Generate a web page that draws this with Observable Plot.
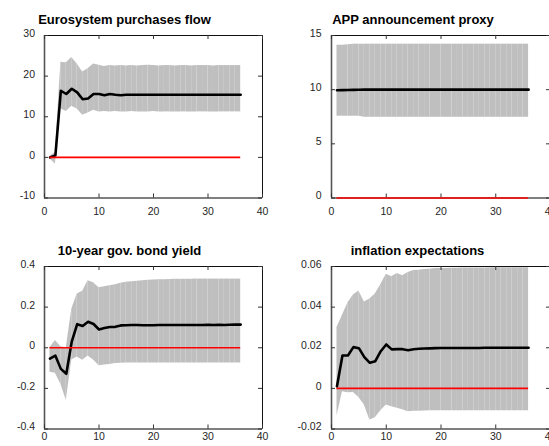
<!DOCTYPE html>
<html>
<head>
<meta charset="utf-8">
<script src="https://cdn.jsdelivr.net/npm/d3@7"></script>
<script src="https://cdn.jsdelivr.net/npm/@observablehq/plot@0.6"></script>
<style>
  html, body { margin: 0; padding: 0; background: #fff; overflow: hidden; }
  #fig { position: relative; width: 549px; height: 446px; overflow: hidden;
         font-family: "Liberation Sans", Arial, Helvetica, sans-serif; }
  .panel { position: absolute; }
  .title { position: absolute; font-weight: bold; font-size: 13px; line-height: 13px;
           color: #000; white-space: nowrap; transform: translateX(-50%); }
</style>
</head>
<body>
<div id="fig"></div>
<script>
// Impulse-response horizon (months)
const horizon = [1, 2, 3, 4, 5, 6, 7, 8, 9, 10, 11, 12, 13, 14, 15, 16, 17, 18,
                 19, 20, 21, 22, 23, 24, 25, 26, 27, 28, 29, 30, 31, 32, 33, 34, 35, 36];

// Eurosystem purchases flow: median response and credible band
const flowMedian = [0.0, 0.5, 16.4, 15.6, 16.9, 16.0, 14.3, 14.5, 15.6, 15.6, 15.3, 15.6,
                    15.4, 15.3, 15.4, 15.4, 15.4, 15.4, 15.4, 15.4, 15.4, 15.4, 15.4, 15.4,
                    15.4, 15.4, 15.4, 15.4, 15.4, 15.4, 15.4, 15.4, 15.4, 15.4, 15.4, 15.4];
const flowUpper = [0.3, 1.2, 23.4, 23.3, 24.6, 23.0, 21.0, 21.8, 23.0, 22.7, 22.4, 22.6,
                   22.5, 22.6, 22.5, 22.6, 22.5, 22.6, 22.7, 22.6, 22.5, 22.6, 22.6, 22.5,
                   22.6, 22.6, 22.5, 22.6, 22.6, 22.6, 22.5, 22.6, 22.6, 22.6, 22.6, 22.6];
const flowLower = [-0.3, -1.7, 12.0, 11.3, 12.6, 11.9, 10.4, 10.9, 11.6, 11.2, 11.3, 11.2,
                   11.3, 11.2, 11.2, 11.3, 11.2, 11.2, 11.2, 11.3, 11.2, 11.2, 11.2, 11.2,
                   11.2, 11.2, 11.2, 11.2, 11.2, 11.2, 11.2, 11.2, 11.2, 11.2, 11.2, 11.2];

// APP announcement proxy
const appMedian = [9.95, 9.96, 9.97, 9.98, 9.99, 10.0, 10.0, 10.0, 10.0, 10.0, 10.0, 10.0,
                   10.0, 10.0, 10.0, 10.0, 10.0, 10.0, 10.0, 10.0, 10.0, 10.0, 10.0, 10.0,
                   10.0, 10.0, 10.0, 10.0, 10.0, 10.0, 10.0, 10.0, 10.0, 10.0, 10.0, 10.0];
const appUpper = [14.1, 14.1, 14.15, 14.2, 14.2, 14.2, 14.2, 14.2, 14.2, 14.2, 14.2, 14.2,
                  14.2, 14.2, 14.2, 14.2, 14.2, 14.2, 14.2, 14.2, 14.2, 14.2, 14.2, 14.2,
                  14.2, 14.2, 14.2, 14.2, 14.2, 14.2, 14.2, 14.2, 14.2, 14.2, 14.2, 14.2];
const appLower = [7.55, 7.55, 7.55, 7.55, 7.55, 7.45, 7.45, 7.45, 7.45, 7.45, 7.45, 7.45,
                  7.45, 7.45, 7.45, 7.45, 7.45, 7.45, 7.45, 7.45, 7.45, 7.45, 7.45, 7.45,
                  7.45, 7.45, 7.45, 7.45, 7.45, 7.45, 7.45, 7.45, 7.45, 7.45, 7.45, 7.45];

// 10-year government bond yield
const bondMedian = [-0.054, -0.039, -0.104, -0.128, 0.030, 0.116, 0.107, 0.128, 0.117, 0.090, 0.097, 0.102,
                    0.103, 0.110, 0.111, 0.112, 0.112, 0.111, 0.111, 0.111, 0.112, 0.112, 0.112, 0.112,
                    0.112, 0.112, 0.112, 0.112, 0.112, 0.113, 0.112, 0.113, 0.112, 0.113, 0.114, 0.114];
const bondUpper = [0.000, 0.036, 0.005, 0.000, 0.190, 0.265, 0.278, 0.330, 0.320, 0.295, 0.300, 0.305,
                   0.310, 0.318, 0.322, 0.325, 0.327, 0.330, 0.332, 0.333, 0.335, 0.335, 0.336, 0.337,
                   0.337, 0.337, 0.337, 0.338, 0.338, 0.338, 0.338, 0.338, 0.338, 0.338, 0.338, 0.338];
const bondLower = [-0.120, -0.125, -0.180, -0.260, -0.060, -0.045, -0.062, -0.040, -0.060, -0.088, -0.085, -0.082,
                   -0.078, -0.076, -0.075, -0.075, -0.075, -0.075, -0.075, -0.075, -0.075, -0.075, -0.075, -0.075,
                   -0.075, -0.075, -0.075, -0.075, -0.075, -0.075, -0.075, -0.075, -0.075, -0.075, -0.075, -0.075];

// Inflation expectations
const inflMedian = [0.0010, 0.0162, 0.0162, 0.0203, 0.0198, 0.0154, 0.0126, 0.0134, 0.0183, 0.0216, 0.0192, 0.0193,
                    0.0193, 0.0188, 0.0193, 0.0195, 0.0196, 0.0197, 0.0198, 0.0199, 0.0199, 0.0199, 0.0199, 0.0199,
                    0.0199, 0.0199, 0.0199, 0.0200, 0.0200, 0.0200, 0.0200, 0.0200, 0.0200, 0.0200, 0.0200, 0.0200];
const inflUpper = [0.0300, 0.0360, 0.0420, 0.0460, 0.0480, 0.0425, 0.0440, 0.0465, 0.0510, 0.0562, 0.0550, 0.0565,
                   0.0555, 0.0570, 0.0580, 0.0582, 0.0585, 0.0587, 0.0590, 0.0590, 0.0590, 0.0592, 0.0592, 0.0593,
                   0.0593, 0.0593, 0.0593, 0.0593, 0.0594, 0.0594, 0.0594, 0.0594, 0.0594, 0.0594, 0.0594, 0.0594];
const inflLower = [-0.0136, -0.0016, -0.0022, -0.0020, -0.0045, -0.0082, -0.0156, -0.0145, -0.0110, -0.0082, -0.0090, -0.0098,
                   -0.0105, -0.0115, -0.0113, -0.0112, -0.0111, -0.0110, -0.0110, -0.0110, -0.0110, -0.0110, -0.0110, -0.0110,
                   -0.0110, -0.0110, -0.0110, -0.0110, -0.0110, -0.0110, -0.0110, -0.0110, -0.0110, -0.0110, -0.0110, -0.0110];

// Axis ticks and their labels
const xTicks = [0, 10, 20, 30, 40];
const xTickLabels = ["0", "10", "20", "30", "40"];
const flowTicks = [-10, 0, 10, 20, 30];
const flowTickLabels = ["-10", "0", "10", "20", "30"];
const appTicks = [0, 5, 10, 15];
const appTickLabels = ["0", "5", "10", "15"];
const bondTicks = [-0.4, -0.2, 0, 0.2, 0.4];
const bondTickLabels = ["-0.4", "-0.2", "0", "0.2", "0.4"];
const inflTicks = [-0.02, 0, 0.02, 0.04, 0.06];
const inflTickLabels = ["-0.02", "0", "0.02", "0.04", "0.06"];

const titles = ["Eurosystem purchases flow", "APP announcement proxy",
                "10-year gov. bond yield", "inflation expectations"];

// Layout of the 2x2 grid of subplots
const panels = [
  {title: titles[0], median: flowMedian, upper: flowUpper, lower: flowLower,
   yDomain: [-10, 30], yTicks: flowTicks, yLabels: flowTickLabels,
   left: 0, top: 0, width: 275, height: 223,
   m: {top: 35, right: 13, bottom: 25.5, left: 44}, xPad: 10, yPad: 9.5,
   titleX: 124.5, titleY: 13},
  {title: titles[1], median: appMedian, upper: appUpper, lower: appLower,
   yDomain: [0, 15], yTicks: appTicks, yLabels: appTickLabels,
   left: 275, top: 0, width: 276, height: 223,
   m: {top: 35, right: 1, bottom: 25.5, left: 56}, xPad: 10, yPad: 10,
   titleX: 413, titleY: 13},
  {title: titles[2], median: bondMedian, upper: bondUpper, lower: bondLower,
   yDomain: [-0.4, 0.4], yTicks: bondTicks, yLabels: bondTickLabels,
   left: 0, top: 223, width: 275, height: 223,
   m: {top: 43, right: 13, bottom: 17.5, left: 44}, xPad: 3.5, yPad: 9.5,
   titleX: 129.5, titleY: 244},
  {title: titles[3], median: inflMedian, upper: inflUpper, lower: inflLower,
   yDomain: [-0.02, 0.06], yTicks: inflTicks, yLabels: inflTickLabels,
   left: 275, top: 223, width: 276, height: 223,
   m: {top: 43, right: 1, bottom: 17.5, left: 56}, xPad: 3.5, yPad: 10,
   titleX: 417.5, titleY: 244}
];

const fig = document.getElementById("fig");
const TICK = 4;

function labeler(values, labels) {
  const map = new Map(values.map((v, i) => [v, labels[i]]));
  return (d) => map.get(d);
}

for (const p of panels) {
  const rows = horizon.map((h, i) => ({h, mid: p.median[i], lo: p.lower[i], hi: p.upper[i]}));
  // band drawn as one patch per step, like a patch-per-interval fill
  const strips = [];
  for (let i = 0; i + 1 < rows.length; i++) {
    strips.push({...rows[i], seg: i}, {...rows[i + 1], seg: i});
  }
  const innerW = p.width - p.m.left - p.m.right;
  const innerH = p.height - p.m.top - p.m.bottom;
  const [y0, y1] = p.yDomain;

  const chart = Plot.plot({
    width: p.width,
    height: p.height,
    marginTop: p.m.top, marginRight: p.m.right, marginBottom: p.m.bottom, marginLeft: p.m.left,
    x: {domain: [0, 40], label: null},
    y: {domain: p.yDomain, label: null},
    style: {fontFamily: '"Liberation Sans", Arial, Helvetica, sans-serif', fontSize: "10.5px",
            color: "#262626", background: "transparent", overflow: "visible"},
    marks: [
      Plot.areaY(strips, {x: "h", y1: "lo", y2: "hi", z: "seg", fill: "#bfbfbf"}),
      // box
      Plot.ruleY([y1], {stroke: "#111", strokeWidth: 1}),
      Plot.ruleX([40], {stroke: "#111", strokeWidth: 1}),
      Plot.ruleX([0], {stroke: "#555", strokeWidth: 1.6}),
      Plot.ruleY([y0], {stroke: "#555", strokeWidth: 1.6}),
      // inward ticks on all four sides
      Plot.tickX(xTicks, {x: (d) => d, insetTop: innerH - TICK, stroke: "#333"}),
      Plot.tickX(xTicks, {x: (d) => d, insetBottom: innerH - TICK, stroke: "#333"}),
      Plot.tickY(p.yTicks, {y: (d) => d, insetRight: innerW - TICK, stroke: "#333"}),
      Plot.tickY(p.yTicks, {y: (d) => d, insetLeft: innerW - TICK, stroke: "#333"}),
      Plot.axisX(xTicks, {tickSize: 0, tickPadding: p.xPad, label: null,
                          tickFormat: labeler(xTicks, xTickLabels)}),
      Plot.axisY(p.yTicks, {tickSize: 0, tickPadding: p.yPad, dy: -2, label: null,
                            tickFormat: labeler(p.yTicks, p.yLabels)}),
      Plot.lineY(rows, {x: "h", y: "mid", stroke: "#000", strokeWidth: 2.6}),
      Plot.ruleY([0], {x1: horizon[0], x2: horizon[horizon.length - 1], stroke: "#ff0000", strokeWidth: 1.6})
    ]
  });
  chart.classList.add("panel");
  chart.style.left = p.left + "px";
  chart.style.top = p.top + "px";
  fig.appendChild(chart);

  const t = document.createElement("div");
  t.className = "title";
  t.textContent = p.title;
  t.style.left = p.titleX + "px";
  t.style.top = p.titleY + "px";
  fig.appendChild(t);
}
</script>
</body>
</html>
